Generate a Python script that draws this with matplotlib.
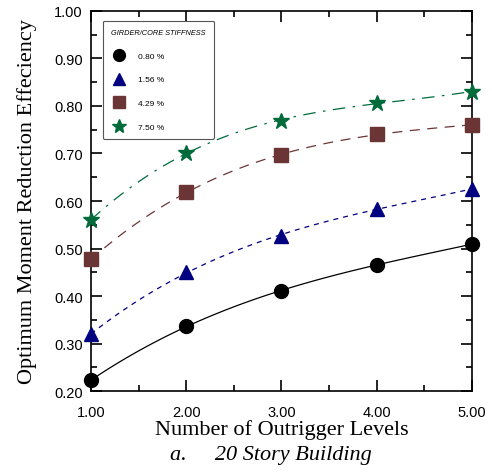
import numpy as np
import matplotlib
matplotlib.use("Agg")
import matplotlib.pyplot as plt
from matplotlib.ticker import MultipleLocator, FormatStrFormatter

# Data
levels = [1, 2, 3, 4, 5]
labels = ["0.80 %", "1.56 %", "4.29 %", "7.50 %"]
eff_080 = [0.223, 0.336, 0.411, 0.466, 0.509]
eff_156 = [0.320, 0.450, 0.527, 0.584, 0.625]
eff_429 = [0.477, 0.619, 0.696, 0.741, 0.760]
eff_750 = [0.560, 0.702, 0.768, 0.807, 0.830]

series = [eff_080, eff_156, eff_429, eff_750]
colors = ["black", "#000080", "#6b3535", "#006b3a"]
markers = ["o", "^", "s", "*"]
msizes = [10, 10, 10, 12]
dashes = [(None,), (4, 4), (8, 6), (10, 6, 2, 6)]

fig = plt.figure(figsize=(4.92, 4.77), dpi=100)
ax = fig.add_axes([0.185, 0.178, 0.774, 0.797])

xs = np.linspace(1, 5, 100)
for ys, c, m, ms, d in zip(series, colors, markers, msizes, dashes):
    # smooth cubic fit through the points, like the original
    coef = np.polyfit(levels, ys, 3)
    line, = ax.plot(xs, np.polyval(coef, xs), color=c, lw=0.9)
    if d[0] is not None:
        line.set_dashes(d)
    ax.plot(levels, ys, linestyle="none", marker=m, markersize=ms,
            color=c, markeredgecolor=c, clip_on=False, zorder=5)

ax.set_xlim(1, 5)
ax.set_ylim(0.2, 1.0)
ax.xaxis.set_major_locator(MultipleLocator(1))
ax.xaxis.set_minor_locator(MultipleLocator(0.5))
ax.yaxis.set_major_locator(MultipleLocator(0.1))
ax.yaxis.set_minor_locator(MultipleLocator(0.05))
ax.xaxis.set_major_formatter(FormatStrFormatter("%.2f"))
ax.yaxis.set_major_formatter(FormatStrFormatter("%.2f"))
ax.tick_params(which="both", direction="in", top=True, right=True,
               labelsize=10.5, width=1.2)
ax.tick_params(which="major", length=8, pad=6)
ax.tick_params(axis="x", which="major", pad=10)
ax.tick_params(which="minor", length=4)
for lbl in ax.get_xticklabels() + ax.get_yticklabels():
    lbl.set_family("Liberation Sans")
for s in ax.spines.values():
    s.set_linewidth(1.2)

ax.set_ylabel("Optimum Moment Reduction Effeciency", family="Liberation Serif",
              fontsize=16, labelpad=12)
ax.set_xlabel("Number of Outrigger Levels", family="Liberation Serif",
              fontsize=16, labelpad=0)
fig.text(0.55, 0.035, "a.     20 Story Building", family="Liberation Serif",
         style="italic", fontsize=16, ha="center")

handles = [plt.Line2D([], [], linestyle="none", marker=m, markersize=ms * 0.85,
                      color=c) for c, m, ms in zip(colors, markers, msizes)]
leg = ax.legend(handles, labels, loc="upper left", bbox_to_anchor=(0.02, 0.985),
                title="GIRDER/CORE STIFFNESS", fancybox=True, frameon=True,
                handletextpad=1.2, labelspacing=1.9, borderpad=1.0,
                prop={"family": "Liberation Sans", "size": 6})
leg.get_title().set_fontsize(5.3)
leg.get_title().set_style("italic")
leg.get_title().set_family("Liberation Sans")
leg.get_frame().set_edgecolor("#555555")
leg.get_frame().set_linewidth(0.8)
leg.get_frame().set_alpha(1)
leg._legend_box.align = "left"

plt.savefig("out.png", dpi=100)
plt.close()
